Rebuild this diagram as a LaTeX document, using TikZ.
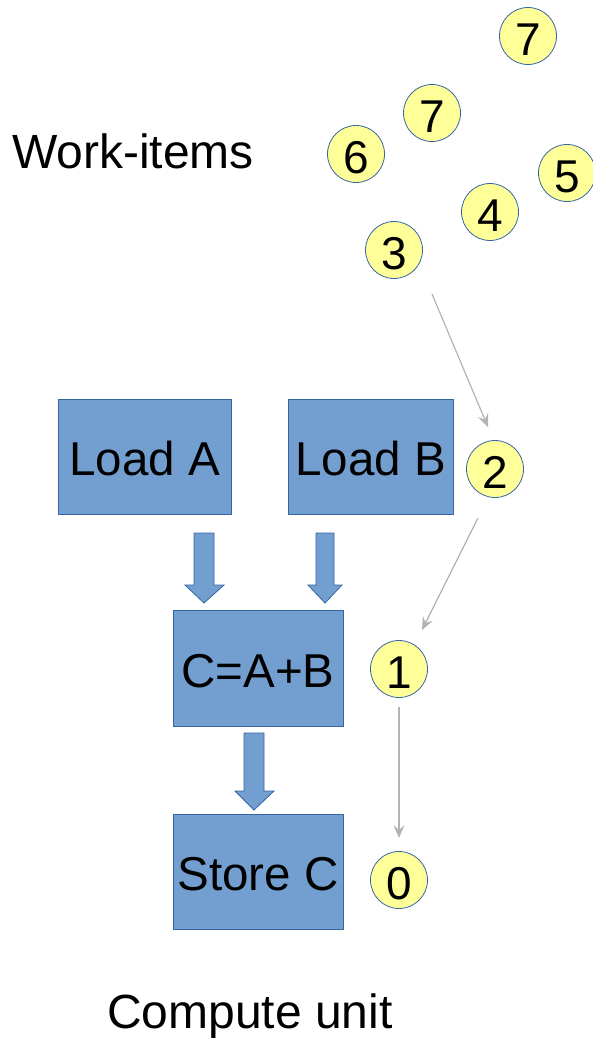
\documentclass[tikz,border=0pt]{standalone}
\usepackage{fontspec}
\setmainfont{Liberation Sans}
\usetikzlibrary{arrows.meta}
\definecolor{boxfill}{HTML}{729FCF}
\definecolor{boxline}{HTML}{3465A4}
\definecolor{itemfill}{HTML}{FFFF99}
\definecolor{flowgray}{HTML}{B3B3B3}
\begin{document}
\begin{tikzpicture}[x=1pt,y=-1pt,
  box/.style={rectangle,draw=boxline,fill=boxfill,line width=1pt,inner sep=0pt,text height=38pt,text depth=0pt,font=\fontsize{47.5}{50}\selectfont},
  item/.style={circle,draw=boxline,fill=itemfill,line width=0.8pt,minimum size=57pt,inner sep=0pt,text height=39pt,text depth=0pt,font=\fontsize{46}{48}\selectfont},
  label/.style={font=\fontsize{48}{50}\selectfont,anchor=base,inner sep=0pt},
  flow/.style={draw=flowgray,line width=1.2pt,-{Stealth[length=13pt,width=11pt,inset=5pt]}},
  barrow/.style={draw=boxline,fill=boxfill,line width=0.8pt,line join=miter}]
\useasboundingbox (0,0) rectangle (592,1038);

% boxes
\node[box,minimum width=173pt,minimum height=115pt] (loadA) at (144.5,456.5) {Load A};
\node[box,minimum width=165pt,minimum height=115pt] (loadB) at (370.5,456.5) {Load B};
\node[box,minimum width=170pt,minimum height=116pt] (add) at (258,668) {C=A+B};
\node[box,minimum width=170pt,minimum height=115pt] (store) at (258,871.5) {Store C};

% block arrows
\draw[barrow] (194,533) -- (214,533) -- (214,585) -- (224,585) -- (204,603) -- (185,585) -- (194,585) -- cycle;
\draw[barrow] (316,533) -- (334,533) -- (334,585) -- (342,585) -- (325,603) -- (308,585) -- (316,585) -- cycle;
\draw[barrow] (244,733) -- (264,733) -- (264,791) -- (274,791) -- (254,810) -- (235,791) -- (244,791) -- cycle;

% work-items
\node[item] (w7a) at (528,36) {7};
\node[item] (w7b) at (432,113) {7};
\node[item] (w6) at (356,154) {6};
\node[item] (w5) at (567,173) {5};
\node[item] (w4) at (490,212) {4};
\node[item] (w3) at (394,250) {3};
\node[item] (w2) at (495,469) {2};
\node[item] (w1) at (399,669) {1};
\node[item] (w0) at (399,880) {0};

% flow arrows
\coordinate (f3s) at (432,294);
\coordinate (f3e) at (488,427);
\coordinate (f2s) at (478,518);
\coordinate (f2e) at (422,630);
\coordinate (f1s) at (399,707);
\coordinate (f1e) at (399,838);
\draw[flow] (f3s) -- (f3e);
\draw[flow] (f2s) -- (f2e);
\draw[flow] (f1s) -- (f1e);

% labels
\node[label] (witems) at (133,168) {Work-items};
\node[label] (cunit) at (250,1028) {Compute unit};
\end{tikzpicture}
\end{document}
